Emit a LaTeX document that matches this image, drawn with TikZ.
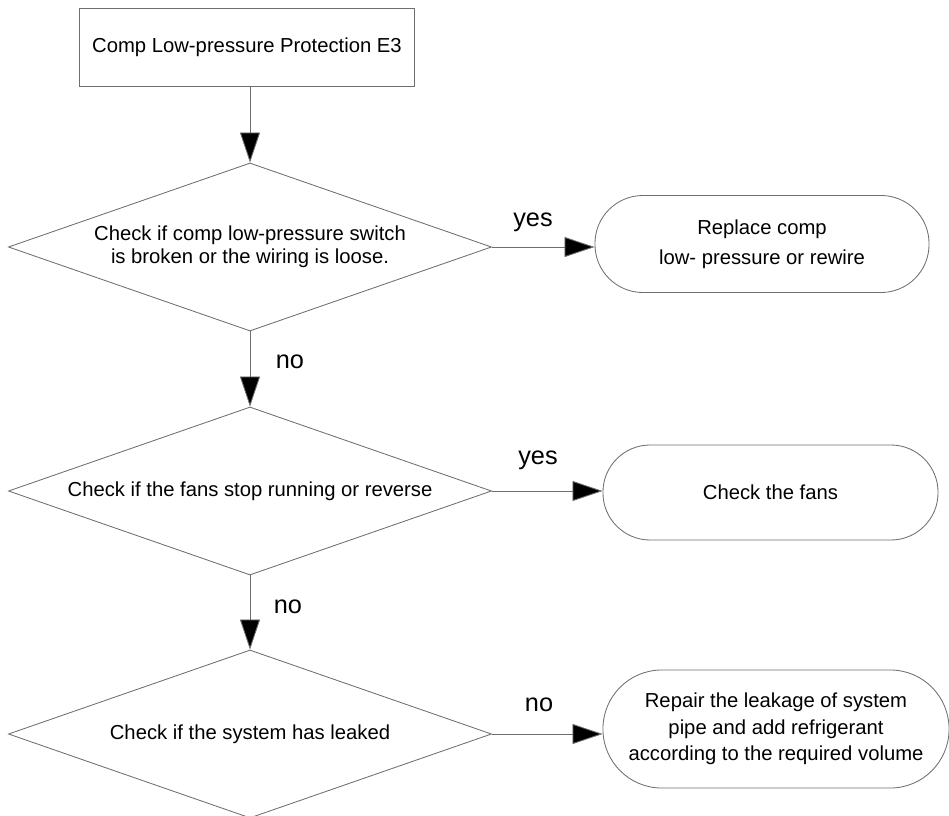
\documentclass[tikz,border=0pt]{standalone}
\usepackage{fontspec}
\setmainfont{Liberation Sans}
\usetikzlibrary{arrows.meta, shapes.geometric}
\definecolor{cgrey}{HTML}{6E6E6E}
\tikzset{
  every picture/.style={font=\fontsize{14.4}{19}\selectfont, line width=0.6pt},
  startbox/.style={draw=cgrey, rectangle, minimum width=8.375cm, minimum height=1.95cm, inner sep=0pt},
  decision/.style={draw=cgrey, diamond, aspect=2.875, minimum width=12.075cm, minimum height=4.2cm, inner sep=0pt, align=center},
  action/.style={draw=cgrey, rectangle, rounded corners=#1, align=center, inner sep=0pt},
  arrow/.style={-{Triangle[length=7.5mm, width=5mm, fill=black]}, draw=cgrey},
  answer/.style={font=\fontsize{18}{22}\selectfont},
}

\begin{document}
\begin{tikzpicture}[x=0.025cm, y=-0.025cm]
  \useasboundingbox (0,0) rectangle (949,816);
  % main column
  \node[startbox] (start) at (247,47) {Comp Low-pressure Protection E3};
  \node[decision] (switch) at (250,247) {Check if comp low-pressure switch\\[-3pt]is broken or the wiring is loose.};
  \node[decision] (fanstop) at (250,491) {Check if the fans stop running or reverse};
  \node[decision] (leak) at (250,734) {Check if the system has leaked};
  % actions on the right
  \node[action=1.2cm, minimum width=8.35cm, minimum height=2.425cm] (rewire) at (762,244) {Replace comp\\[2pt]low- pressure or rewire};
  \node[action=1.18cm, minimum width=8.375cm, minimum height=2.375cm] (fans) at (770.5,492.5) {Check the fans};
  \node[action=1.47cm, minimum width=8.65cm, minimum height=2.95cm] (repair) at (776,729) {Repair the leakage of system\\pipe and add refrigerant\\according to the required volume};
  % connectors
  \draw[arrow] (start.south -| switch.north) -- (switch.north);
  \draw[arrow] (switch) -- (fanstop);
  \draw[arrow] (fanstop) -- (leak);
  \draw[arrow] (switch.east) -- (switch.east -| rewire.west);
  \draw[arrow] (fanstop.east) -- (fanstop.east -| fans.west);
  \draw[arrow] (leak.east) -- (leak.east -| repair.west);
  % answers
  \node[answer] (yes1) at (533,222) {yes};
  \node[answer] (yes2) at (538,460) {yes};
  \node[answer] (no3) at (539,705) {no};
  \node[answer] (no1) at (290,362) {no};
  \node[answer] (no2) at (288,607) {no};
\end{tikzpicture}
\end{document}
